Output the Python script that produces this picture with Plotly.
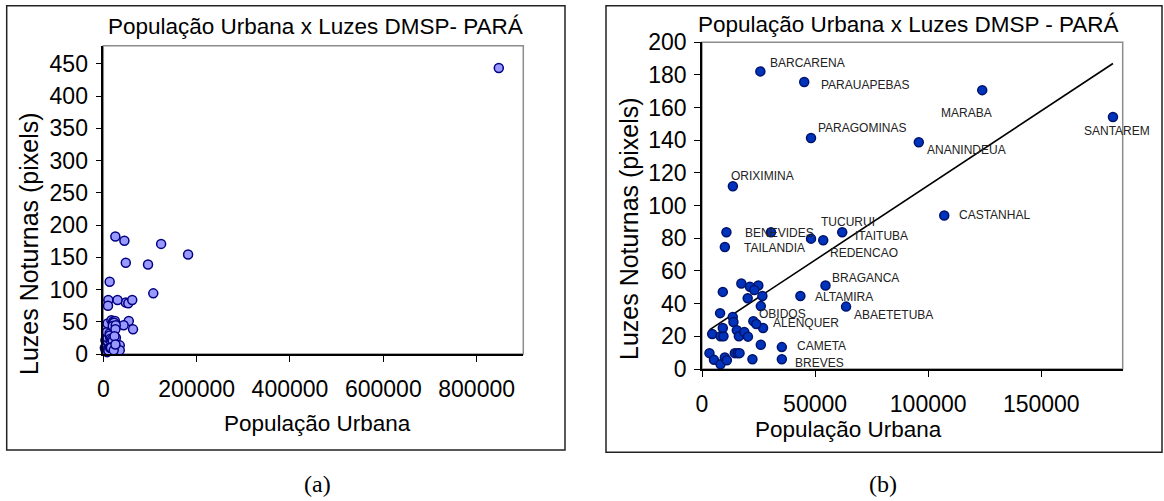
import plotly.graph_objects as go

# Municipalities of Pará: urban population vs. DMSP night-light pixels
municipios = [
    "BARCARENA", "PARAUAPEBAS", "MARABA", "SANTAREM", "PARAGOMINAS",
    "ANANINDEUA", "ORIXIMINA", "CASTANHAL", "BENEVIDES", "TAILANDIA",
    "TUCURUI", "REDENCAO", "ITAITUBA", "BRAGANCA", "ALTAMIRA",
    "ABAETETUBA", "OBIDOS", "ALENQUER", "CAMETA", "BREVES", "",
    "", "", "", "", "", "", "", "", "", "",
    "", "", "", "", "", "", "", "", "", "",
    "", "", "", "", "", "", "", "", "", "",
]
populacao = [
    25800, 45200, 123900, 181700, 48200,
    95850, 13650, 107100, 10800, 10100,
    48200, 53600, 62000, 54600, 43500,
    63700, 22700, 27000, 35300, 35300, 30500,
    3300, 5300, 8200, 10100, 11000, 4500, 8200, 9500, 9200, 8000,
    9200, 13600, 13900, 15400, 16300, 18700, 20300, 14500, 15700, 16600,
    22300, 17400, 21200, 24900, 23100, 20200, 26700, 26000, 24000, 26000,
]
luzes = [
    182.2, 175.7, 170.7, 154.3, 141.4,
    138.8, 111.9, 94.0, 83.7, 74.7,
    79.8, 78.8, 83.7, 51.1, 44.7,
    38.2, 29.3, 25.1, 13.4, 6.0, 83.7,
    9.7, 5.6, 2.9, 7.0, 5.4, 21.4, 20.0, 20.0, 25.1, 34.2,
    47.2, 31.9, 28.8, 23.7, 20.0, 22.7, 19.8, 9.7, 9.7, 9.7,
    6.0, 52.3, 50.3, 51.1, 48.4, 43.3, 44.7, 38.5, 27.6, 14.8,
]

# The state capital, shown only in the full-range panel
capital_pop = [847500]
capital_luzes = [443.4]

# Linear trend drawn over panel (b)
tendencia_x = [3300, 181700]
tendencia_y = [24.0, 187.0]

titulo = "População Urbana x Luzes DMSP- PARÁ"
titulo_b = "População Urbana x Luzes DMSP - PARÁ"
eixo_x = "População Urbana"
eixo_y = "Luzes Noturnas (pixels)"

# label placement around each point: (dx px, dy px down, anchor)
rotulo_pos = {
    "BARCARENA": (8, -8, "left"), "PARAUAPEBAS": (14.5, 3.3, "left"),
    "MARABA": (-16, 23, "center"), "SANTAREM": (4, 14.5, "center"),
    "PARAGOMINAS": (4.5, -10, "left"), "ANANINDEUA": (6.6, 7.6, "left"),
    "ORIXIMINA": (-3.8, -9.8, "left"), "CASTANHAL": (12.5, 0, "left"),
    "BENEVIDES": (17, 1.2, "left"), "TAILANDIA": (17, 0.6, "left"),
    "TUCURUI": (8.4, -17, "left"), "REDENCAO": (5, 12.4, "left"),
    "ITAITUBA": (11, 3.5, "left"), "BRAGANCA": (4, -8, "left"),
    "ALTAMIRA": (13, 1, "left"), "ABAETETUBA": (6.2, 8.4, "left"),
    "OBIDOS": (3.3, -7.6, "left"), "ALENQUER": (8.4, -5.5, "left"),
    "CAMETA": (12.7, -1, "left"), "BREVES": (10.9, 3.6, "left"),
}

# Positions below are given in figure pixels from the top-left corner.
W, H = 1164, 501
SANS = "Liberation Sans, Arial, sans-serif"
SERIF = "Liberation Serif, Times New Roman, serif"


def px(x):
    return x / W


def py(y):
    return 1 - y / H


fig = go.Figure()

fig.add_trace(go.Scatter(
    x=populacao + capital_pop, y=luzes + capital_luzes, mode="markers",
    marker=dict(size=9, color="#9999FF", line=dict(color="#000080", width=1.5)),
    xaxis="x", yaxis="y", cliponaxis=False, showlegend=False,
))
fig.add_trace(go.Scatter(
    x=tendencia_x, y=tendencia_y, mode="lines",
    line=dict(color="black", width=1.6),
    xaxis="x2", yaxis="y2", showlegend=False,
))
fig.add_trace(go.Scatter(
    x=populacao, y=luzes, mode="markers",
    marker=dict(size=9, color="#0033BB", line=dict(color="#00136b", width=1.5)),
    xaxis="x2", yaxis="y2", cliponaxis=False, showlegend=False,
))

tick_font = dict(family=SANS, size=23, color="black")
common_x = dict(showgrid=False, zeroline=False, showline=True, linecolor="black",
                linewidth=1.5, ticks="outside", ticklen=6, tickcolor="black",
                tickwidth=1.2, tickformat="d", tickfont=tick_font,
                ticklabelstandoff=8, automargin=False)
common_y = dict(showgrid=False, zeroline=False, showline=True, linecolor="black",
                linewidth=1.5, ticks="outside", ticklen=6, tickcolor="black",
                tickwidth=1.2, tickfont=tick_font, ticklabelstandoff=3,
                automargin=False)

fig.update_layout(
    width=W, height=H, margin=dict(l=0, r=0, t=0, b=0, autoexpand=False),
    paper_bgcolor="white", plot_bgcolor="white",
    xaxis=dict(domain=[px(103.3), px(523.3)], range=[0, 900000],
               tickvals=[0, 200000, 400000, 600000, 800000], anchor="y", **common_x),
    yaxis=dict(domain=[py(354), py(45.7)], range=[0, 478], dtick=50,
               anchor="x", **common_y),
    xaxis2=dict(domain=[px(702), px(1122.7)], range=[0, 186000],
                tickvals=[0, 50000, 100000, 150000], anchor="y2", **common_x),
    yaxis2=dict(domain=[py(369), py(42.3)], range=[0, 200], dtick=20,
                anchor="x2", **common_y),
)

shapes = []
# gray plot-area borders
for xr, yr in (("x domain", "y domain"), ("x2 domain", "y2 domain")):
    shapes.append(dict(type="rect", xref=xr, yref=yr, x0=0, x1=1, y0=0, y1=1,
                       line=dict(color="#8c8c8c", width=1.5), layer="below"))
# outer panel frames
for x0, x1, y0, y1 in ((6.7, 565, 5.7, 450), (606, 1162, 5.7, 452.3)):
    shapes.append(dict(type="rect", xref="paper", yref="paper",
                       x0=px(x0), x1=px(x1), y0=py(y1), y1=py(y0),
                       line=dict(color="#222222", width=1.5)))
fig.update_layout(shapes=shapes)

ann = []


def texto(t, x, y, size, font=SANS, angle=0):
    ann.append(dict(text=t, x=px(x), y=py(y), xref="paper", yref="paper",
                    showarrow=False, xanchor="center", yanchor="middle",
                    textangle=angle, font=dict(family=font, size=size, color="black")))


texto(titulo, 315, 27, 22.5)
texto(titulo_b, 908, 25, 22.5)
texto(eixo_y, 29, 244, 25, angle=-90)
texto(eixo_y, 629, 229, 25, angle=-90)
texto(eixo_x, 318, 423, 22.5)
texto(eixo_x, 848, 429, 22.5)
texto("(a)", 318, 484, 24, font=SERIF)
texto("(b)", 883, 484, 24, font=SERIF)

for nome, xv, yv in zip(municipios, populacao, luzes):
    if not nome:
        continue
    dx, dy, anc = rotulo_pos[nome]
    ann.append(dict(text=nome, x=xv, y=yv, xref="x2", yref="y2", showarrow=False,
                    xanchor=anc, yanchor="middle", xshift=dx, yshift=-dy,
                    font=dict(family=SANS, size=12, color="#222222")))

fig.update_layout(annotations=ann)
fig.write_html("out.html")
